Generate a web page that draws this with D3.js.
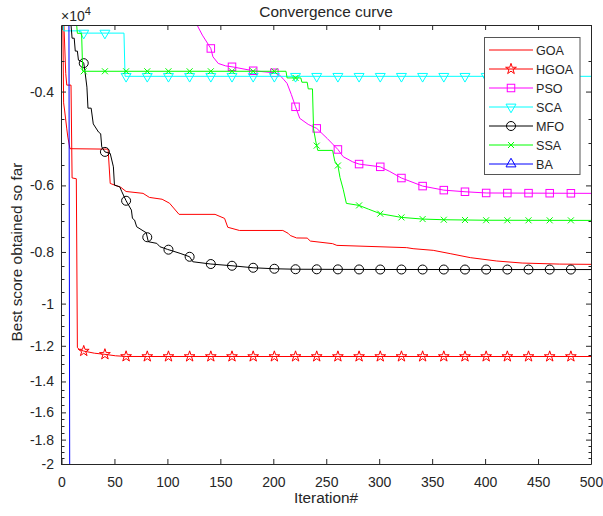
<!DOCTYPE html>
<html>
<head>
<meta charset="utf-8">
<script src="https://cdn.jsdelivr.net/npm/d3@7"></script>
<style>
body { margin: 0; background: #fff; }
text { font-family: Arial, "Liberation Sans", sans-serif; fill: #262626; }
</style>
</head>
<body>
<svg id="main-svg" width="603" height="516"></svg>
<script>
(function() {

    // [iteration, best score]
    var goaCurve = [[1,-2600],[2,-4200],[3,-4350],[5,-4700],[6,-4870],[8,-5120],[44,-5130],[46,-5950],
        [56,-6050],[61,-6160],[77,-6210],[83,-6320],[95,-6370],[102,-6480],[111,-6800],[145,-6800],
        [154,-6920],[157,-7190],[168,-7290],[209,-7290],[214,-7380],[216,-7450],[222,-7530],[232,-7534],
        [235,-7632],[256,-7718],[260,-7775],[326,-7852],[332,-7887],[351,-7944],[367,-8057],[386,-8198],
        [411,-8319],[435,-8392],[470,-8430],[500,-8440]];

    var hgoaCurve = [[1,-2000],[2,-2900],[4,-3700],[5,-3890],[9,-3890],[10,-5810],[14,-5830],[15,-12100],
        [17,-12200],[21,-12277],[31,-12390],[41,-12452],[51,-12530],[61,-12566],[81,-12569],[500,-12569]];

    var psoCurve = [[1,-1000],[100,-2000],[125,-2850],[128,-3000],[133,-3134],[141,-3320],[143,-3442],
        [148,-3542],[155,-3580],[161,-3594],[181,-3656],[201,-3688],[206,-3725],[210,-3800],[213,-3861],
        [217,-4050],[221,-4272],[225,-4491],[233,-4610],[241,-4690],[251,-4900],[261,-5137],[266,-5300],
        [275,-5420],[281,-5472],[301,-5537],[310,-5650],[321,-5812],[341,-6018],[361,-6124],[381,-6167],
        [401,-6200],[500,-6210]];

    var scaCurve = [[1,-2800],[2,-3077],[18,-3077],[19,-3107],[59,-3107],[60,-3745],[500,-3745]];

    var mfoCurve = [[1,-2000],[8,-2900],[9,-3000],[10,-3176],[12,-3176],[13,-3358],[15,-3358],[16,-3492],
        [20,-3520],[21,-3538],[22,-3646],[24,-3924],[25,-4297],[28,-4297],[30,-4600],[35,-4766],[37,-4800],
        [38,-5080],[41,-5191],[46,-5226],[49,-5537],[50,-5993],[55,-6036],[57,-6168],[61,-6412],[66,-6675],
        [67,-6919],[69,-6970],[71,-7175],[80,-7362],[82,-7654],[90,-7708],[93,-7822],[100,-7910],
        [112,-8048],[121,-8168],[124,-8346],[141,-8428],[161,-8491],[181,-8565],[201,-8602],[221,-8620],
        [300,-8630],[500,-8632]];

    var ssaCurve = [[1,-2000],[14,-2950],[15,-3110],[19,-3110],[20,-3664],[212,-3664],[213,-3771],
        [226,-3771],[227,-3842],[232,-3842],[233,-3954],[237,-3954],[238,-4700],[240,-4950],[242,-5158],
        [256,-5158],[258,-5400],[261,-5506],[263,-5800],[266,-6100],[269,-6485],[281,-6542],[290,-6650],
        [301,-6780],[321,-6890],[341,-6940],[361,-6960],[401,-6975],[500,-6980]];

    var baCurve = [[1,-2000],[7,-2700],[8,-40000],[500,-40000]];

    var seriesNames = ["GOA", "HGOA", "PSO", "SCA", "MFO", "SSA", "BA"];
    var xTicks = [0, 50, 100, 150, 200, 250, 300, 350, 400, 450, 500];
    var yTicks = [-4000, -6000, -8000, -10000, -12000, -14000, -16000, -18000, -20000];
    var yTickLabels = ["-0.4", "-0.6", "-0.8", "-1", "-1.2", "-1.4", "-1.6", "-1.8", "-2"];

    var curves = [goaCurve, hgoaCurve, psoCurve, scaCurve, mfoCurve, ssaCurve, baCurve];
    var colors = ["#ff0000", "#ff0000", "#ff00ff", "#00ffff", "#000000", "#00ff00", "#0000ff"];
    var markerTypes = ["none", "star", "square", "triDown", "circle", "x", "triUp"];
    var markerIters = d3.range(1, 500, 20);

    var left = 61, right = 591, top = 25, bottom = 464;
    var axisColor = "#262626";

    var svg = d3.select("#main-svg");

    var x = d3.scaleLinear().domain([0, 500]).range([left + 0.5, right]);
    var y = d3.scaleLog().domain([-3000, -20000]).range([top, bottom]);

    svg.append("defs").append("clipPath")
    .attr("id", "plot-clip")
    .append("rect")
    .attr("x", left)
    .attr("y", top)
    .attr("width", right - left)
    .attr("height", bottom - top);

    // marker shapes
    var drawMarker = function(g, type, color, cx, cy) {
        if (type === "circle") {
            g.append("circle").attr("cx", cx).attr("cy", cy).attr("r", 4.5)
            .attr("fill", "none").attr("stroke", color);
        } else if (type === "square") {
            g.append("rect").attr("x", cx - 3.75).attr("y", cy - 3.75)
            .attr("width", 7.5).attr("height", 7.5)
            .attr("fill", "none").attr("stroke", color);
        } else if (type === "star") {
            g.append("path").attr("d", d3.symbol(d3.symbolStar, 36)())
            .attr("transform", "translate(" + cx + "," + cy + ")")
            .attr("fill", "none").attr("stroke", color);
        } else if (type === "triDown" || type === "triUp") {
            g.append("path").attr("d", d3.symbol(d3.symbolTriangle, 43)())
            .attr("transform", "translate(" + cx + "," + cy + ")" + (type === "triDown" ? " rotate(180)" : ""))
            .attr("fill", "none").attr("stroke", color);
        } else if (type === "x") {
            g.append("path")
            .attr("d", "M" + (cx - 3) + "," + (cy - 3) + "L" + (cx + 3) + "," + (cy + 3) +
                "M" + (cx - 3) + "," + (cy + 3) + "L" + (cx + 3) + "," + (cy - 3))
            .attr("fill", "none").attr("stroke", color);
        }
    };

    // point on the drawn polyline at iteration t
    var pointAt = function(curve, t) {
        var i = d3.bisector(function(d) { return d[0]; }).left(curve, t);
        if (i >= curve.length) i = curve.length - 1;
        if (i === 0 || curve[i][0] === t) return [x(curve[i][0]), y(curve[i][1])];
        var a = curve[i - 1], b = curve[i];
        var f = (t - a[0]) / (b[0] - a[0]);
        return [x(t), y(a[1]) + f * (y(b[1]) - y(a[1]))];
    };

    var line = d3.line()
    .x(function(d) { return x(d[0]); })
    .y(function(d) { return y(d[1]); });

    var plot = svg.append("g");

    curves.map(function(curve, index) {
        plot.append("path")
        .datum(curve)
        .attr("clip-path", "url(#plot-clip)")
        .attr("d", line)
        .attr("fill", "none")
        .attr("stroke", colors[index])
        .attr("stroke-width", 1);

        if (markerTypes[index] !== "none") {
            markerIters.map(function(t) {
                var p = pointAt(curve, t);
                if (p[1] >= top - 0.5 && p[1] <= bottom + 0.5) {
                    drawMarker(plot, markerTypes[index], colors[index], p[0], p[1]);
                }
            });
        }
    });

    // axes (ticks point inward, box on)
    var styleAxis = function(g) {
        g.attr("font-size", 14)
        .attr("font-family", "Arial, 'Liberation Sans', sans-serif")
        .attr("color", axisColor);
    };

    svg.append("g")
    .attr("transform", "translate(0," + bottom + ")")
    .call(d3.axisBottom(x).tickValues(xTicks).tickSize(-5).tickSizeOuter(0).tickPadding(13))
    .call(styleAxis);

    svg.append("g")
    .attr("transform", "translate(0," + top + ")")
    .call(d3.axisTop(x).tickValues(xTicks).tickSize(-5).tickSizeOuter(0).tickFormat(""))
    .call(styleAxis);

    svg.append("g")
    .attr("transform", "translate(" + left + ",0)")
    .call(d3.axisLeft(y).tickValues(yTicks).tickSize(-5).tickSizeOuter(0).tickPadding(7)
        .tickFormat(function(d, i) { return yTickLabels[i]; }))
    .call(styleAxis);

    svg.append("g")
    .attr("transform", "translate(" + right + ",0)")
    .call(d3.axisRight(y).tickValues(yTicks).tickSize(-5).tickSizeOuter(0).tickFormat(""))
    .call(styleAxis);

    // minor ticks of the log axis
    var minorTicks = d3.range(-3500, -20000, -500).filter(function(v) { return v % 2000 !== 0; });
    minorTicks.map(function(v) {
        var yy = Math.round(y(v)) + 0.5;
        svg.append("line").attr("x1", left + 0.5).attr("x2", left + 3.5)
        .attr("y1", yy).attr("y2", yy).attr("stroke", axisColor);
        svg.append("line").attr("x1", right + 0.5).attr("x2", right - 2.5)
        .attr("y1", yy).attr("y2", yy).attr("stroke", axisColor);
    });

    // exponent label
    var expo = svg.append("text")
    .attr("x", 61)
    .attr("y", 21)
    .attr("font-size", 14);
    expo.append("tspan").text("\u00d710");
    expo.append("tspan").attr("dy", -6).attr("font-size", 11).text("4");

    svg.append("text")
    .attr("x", (left + right) / 2)
    .attr("y", 17)
    .attr("text-anchor", "middle")
    .attr("font-size", 15.4)
    .text("Convergence curve");

    svg.append("text")
    .attr("x", (left + right) / 2)
    .attr("y", 503)
    .attr("text-anchor", "middle")
    .attr("font-size", 15.4)
    .text("Iteration#");

    svg.append("text")
    .attr("transform", "translate(21.5,252) rotate(-90)")
    .attr("text-anchor", "middle")
    .attr("font-size", 15.4)
    .text("Best score obtained so far");

    // legend
    var legend = svg.append("g");
    legend.append("rect")
    .attr("x", 484.5)
    .attr("y", 37.5)
    .attr("width", 95.5)
    .attr("height", 137)
    .attr("fill", "#fff")
    .attr("stroke", "#555");

    seriesNames.map(function(name, index) {
        var ly = 50 + index * 19;
        legend.append("line")
        .attr("x1", 489).attr("x2", 533)
        .attr("y1", ly).attr("y2", ly)
        .attr("stroke", colors[index]);
        drawMarker(legend, markerTypes[index], colors[index], 511, ly);
        legend.append("text")
        .attr("x", 536)
        .attr("y", ly + 4.5)
        .attr("font-size", 12.6)
        .text(name);
    });
})();
</script>
</body>
</html>
